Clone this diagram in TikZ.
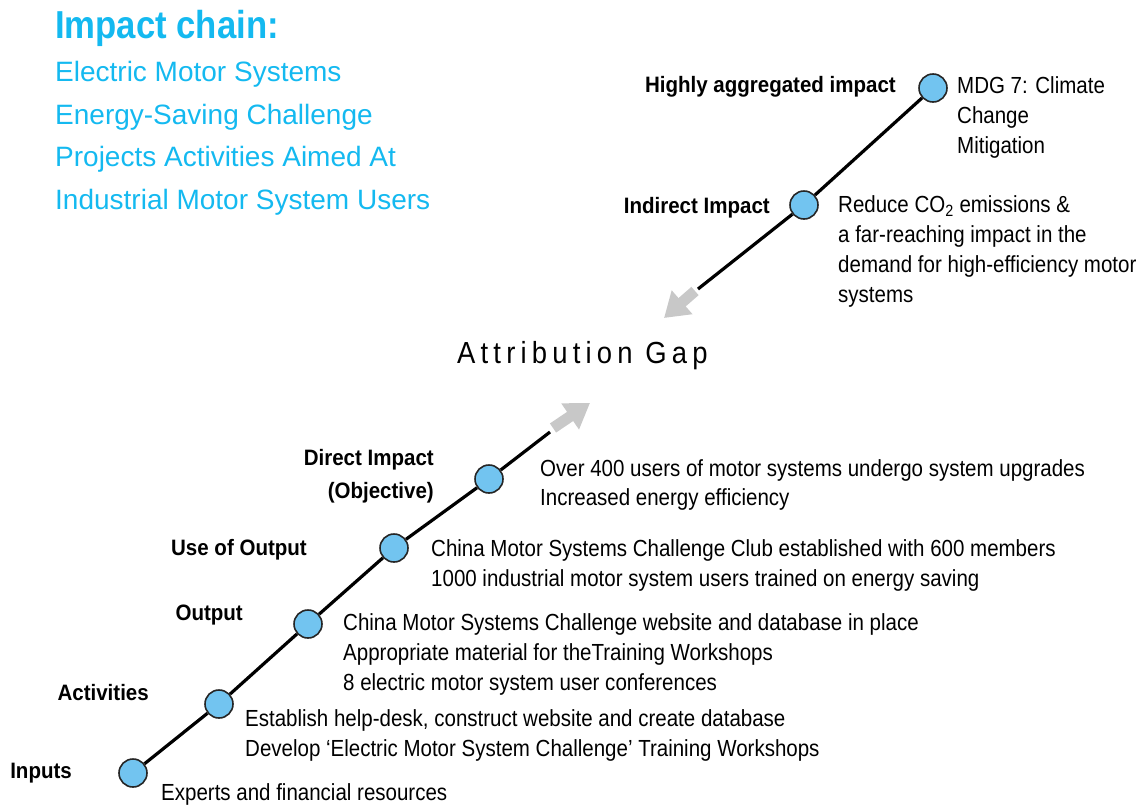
\documentclass[tikz,border=0pt]{standalone}
\usepackage{fontspec}
\setmainfont{Liberation Sans}
\newfontfamily\titlefont[FakeStretch=0.89]{Liberation Sans}
\newfontfamily\descfont[FakeStretch=0.88]{Liberation Sans}
\newfontfamily\lblfont[FakeStretch=0.92]{Liberation Sans}
\newfontfamily\gapfont[FakeStretch=0.9,LetterSpace=17]{Liberation Sans}
\usetikzlibrary{arrows.meta}

\definecolor{titleblue}{RGB}{20,185,240}
\definecolor{dotblue}{RGB}{114,196,240}
\definecolor{gapgray}{RGB}{200,200,200}

\begin{document}
\begin{tikzpicture}[x=1pt,y=-1pt,
  stage/.style={circle,draw=black!85,line width=1.6pt,fill=dotblue,minimum size=28pt,inner sep=0pt},
  chain/.style={line width=3.2pt,black},
  gaparrow/.style={draw=gapgray,line width=11pt,-{Triangle[length=24pt,width=30pt]}},
  lbl/.style={font=\lblfont\bfseries\fontsize{22.3}{33}\selectfont,inner sep=0pt},
  desc/.style={font=\descfont\fontsize{23.3}{29.8}\selectfont,align=left,anchor=north west,inner sep=0pt},
]
\useasboundingbox (0,0) rectangle (1139,809);

% heading
\node[anchor=base west,inner sep=0pt,text=titleblue,font=\titlefont\bfseries\fontsize{39}{45}\selectfont] (title) at (55,38) {Impact chain:};
\node[anchor=north west,inner sep=0pt,align=left,text=titleblue,font=\fontsize{28}{42.7}\selectfont] (subtitle) at (55,61)
  {Electric Motor Systems\\Energy-Saving Challenge\\Projects Activities Aimed At\\Industrial Motor System Users};

% stages of the chain
\node[stage] (inp) at (133,773) {};
\node[stage] (act) at (219,704) {};
\node[stage] (out) at (308,624) {};
\node[stage] (use) at (394,548) {};
\node[stage] (dir) at (489,479) {};
\node[stage] (ind) at (804,205) {};
\node[stage] (agg) at (933,88) {};

\coordinate (endA) at (550,432);
\coordinate (endB) at (698,289);
\coordinate (gapAs) at (553,428);
\coordinate (gapAt) at (590,403);
\coordinate (gapBs) at (695,291);
\coordinate (gapBt) at (664,318);

\draw[chain] (inp) -- (act);
\draw[chain] (act) -- (out);
\draw[chain] (out) -- (use);
\draw[chain] (use) -- (dir);
\draw[chain] (dir) -- (endA);
\draw[chain] (agg) -- (ind);
\draw[chain] (ind) -- (endB);

\draw[gaparrow] (gapAs) -- (gapAt);
\draw[gaparrow] (gapBs) -- (gapBt);

\node[anchor=base west,inner sep=0pt,font=\gapfont\fontsize{30.5}{32}\selectfont] (gap) at (457,363) {Attribution Gap};

% stage names
\node[lbl,anchor=base east] (laggr) at (896,92.7) {Highly aggregated impact};
\node[lbl,anchor=base east] (lind) at (770,213) {Indirect Impact};
\node[lbl,anchor=north east,align=right] (ldir) at (434,449) {Direct Impact\\(Objective)};
\node[lbl,anchor=base east] (luse) at (307,555) {Use of Output};
\node[lbl,anchor=base east] (lout) at (243,620) {Output};
\node[lbl,anchor=base east] (lact) at (149,700) {Activities};
\node[lbl,anchor=base east] (linp) at (72,778) {Inputs};

% stage contents
\node[desc] (daggr) at (957,76.6) {MDG 7: Climate\\Change\\Mitigation};
\node[desc] (dind) at (838,195.6) {Reduce CO\textsubscript{2} emissions \&\\a far-reaching impact in the\\demand for high-efficiency motor\\systems};
\node[desc] (ddir) at (540,459) {Over 400 users of motor systems undergo system upgrades\\Increased energy efficiency};
\node[desc] (duse) at (431,539.6) {China Motor Systems Challenge Club established with 600 members\\1000 industrial motor system users trained on energy saving};
\node[desc] (dout) at (343,613.6) {China Motor Systems Challenge website and database in place\\Appropriate material for theTraining Workshops\\8 electric motor system user conferences};
\node[desc] (dact) at (245,709.6) {Establish help-desk, construct website and create database\\Develop ‘Electric Motor System Challenge’ Training Workshops};
\node[desc] (dinp) at (161,783.6) {Experts and financial resources};
\end{tikzpicture}
\end{document}
